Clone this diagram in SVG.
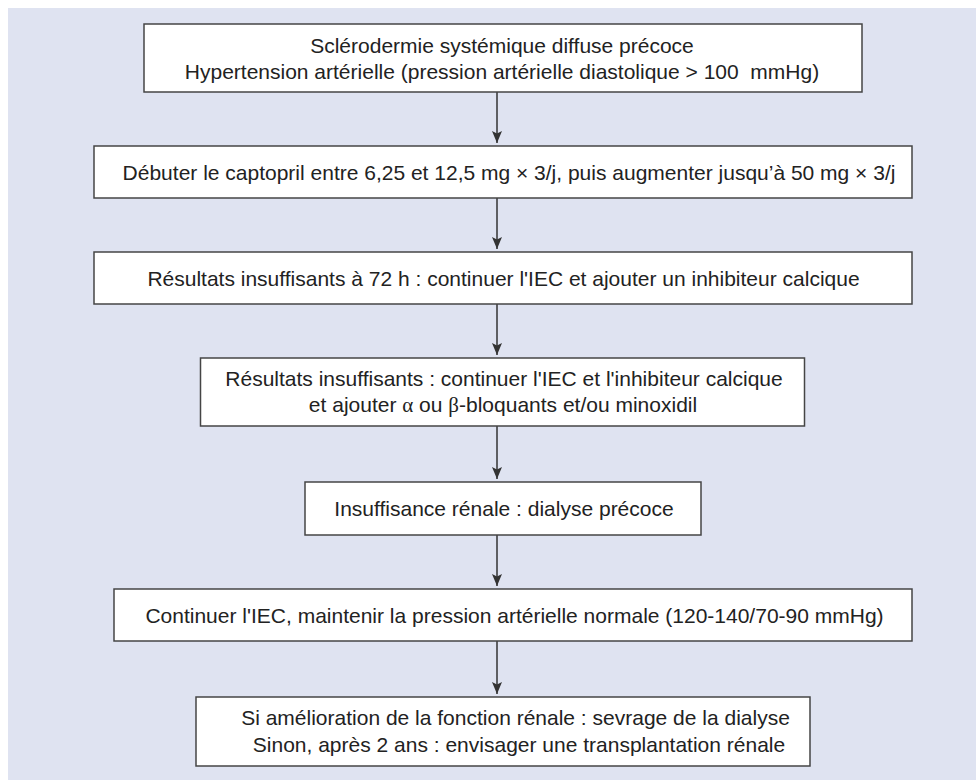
<svg xmlns="http://www.w3.org/2000/svg" width="976" height="780" viewBox="0 0 976 780">
<style>
.bg{fill:#dfe3f1}
.box{fill:#ffffff;stroke:#454545;stroke-width:1.5}
.t{font-family:"Liberation Sans",Arial,sans-serif;font-size:21px;fill:#222222;text-anchor:middle}
.g{font-family:"Liberation Serif","DejaVu Serif",serif}
.c{stroke:#333333;stroke-width:1.5;fill:none}
</style>
<defs>
<marker id="ah" markerUnits="userSpaceOnUse" markerWidth="13" markerHeight="11" refX="12" refY="5" orient="auto" viewBox="0 0 13 10">
<path d="M0,0 L12,5 L0,10 L2.5,5 z" fill="#333333"/>
</marker>
</defs>
<rect class="bg" x="8" y="8" width="968" height="772"/>
<g id="connectors">
<line class="c" x1="497" y1="92" x2="497" y2="143" marker-end="url(#ah)"/>
<line class="c" x1="497" y1="198" x2="497" y2="249" marker-end="url(#ah)"/>
<line class="c" x1="497" y1="304" x2="497" y2="355" marker-end="url(#ah)"/>
<line class="c" x1="497" y1="426" x2="497" y2="479" marker-end="url(#ah)"/>
<line class="c" x1="497" y1="535" x2="497" y2="586" marker-end="url(#ah)"/>
<line class="c" x1="497" y1="641" x2="497" y2="694" marker-end="url(#ah)"/>
</g>
<g id="n1">
<rect class="box" x="144" y="24" width="718" height="68"/>
<text class="t" x="502" y="52.5">Sclérodermie systémique diffuse précoce</text>
<text class="t" x="502" y="78.5">Hypertension artérielle (pression artérielle diastolique &gt; 100&#160; mmHg)</text>
</g>
<g id="n2">
<rect class="box" x="94" y="146" width="818" height="52"/>
<text class="t" x="509" y="179.5">Débuter le captopril entre 6,25 et 12,5 mg × 3/j, puis augmenter jusqu’à 50 mg × 3/j</text>
</g>
<g id="n3">
<rect class="box" x="94" y="252" width="818" height="52"/>
<text class="t" x="503.5" y="285.5">Résultats insuffisants à 72 h : continuer l'IEC et ajouter un inhibiteur calcique</text>
</g>
<g id="n4">
<rect class="box" x="200.5" y="358" width="604" height="68"/>
<text class="t" x="504" y="386">Résultats insuffisants : continuer l'IEC et l'inhibiteur calcique</text>
<text class="t" x="503" y="412">et ajouter <tspan class="g">α</tspan> ou <tspan class="g">β</tspan>-bloquants et/ou minoxidil</text>
</g>
<g id="n5">
<rect class="box" x="305" y="482" width="396" height="53"/>
<text class="t" x="504" y="516">Insuffisance rénale : dialyse précoce</text>
</g>
<g id="n6">
<rect class="box" x="114" y="589" width="798" height="52"/>
<text class="t" x="514.5" y="622.5">Continuer l'IEC, maintenir la pression artérielle normale (120-140/70-90 mmHg)</text>
</g>
<g id="n7">
<rect class="box" x="196" y="697" width="614" height="69"/>
<text class="t" x="515.5" y="725">Si amélioration de la fonction rénale : sevrage de la dialyse</text>
<text class="t" x="519" y="752">Sinon, après 2 ans : envisager une transplantation rénale</text>
</g>
</svg>
